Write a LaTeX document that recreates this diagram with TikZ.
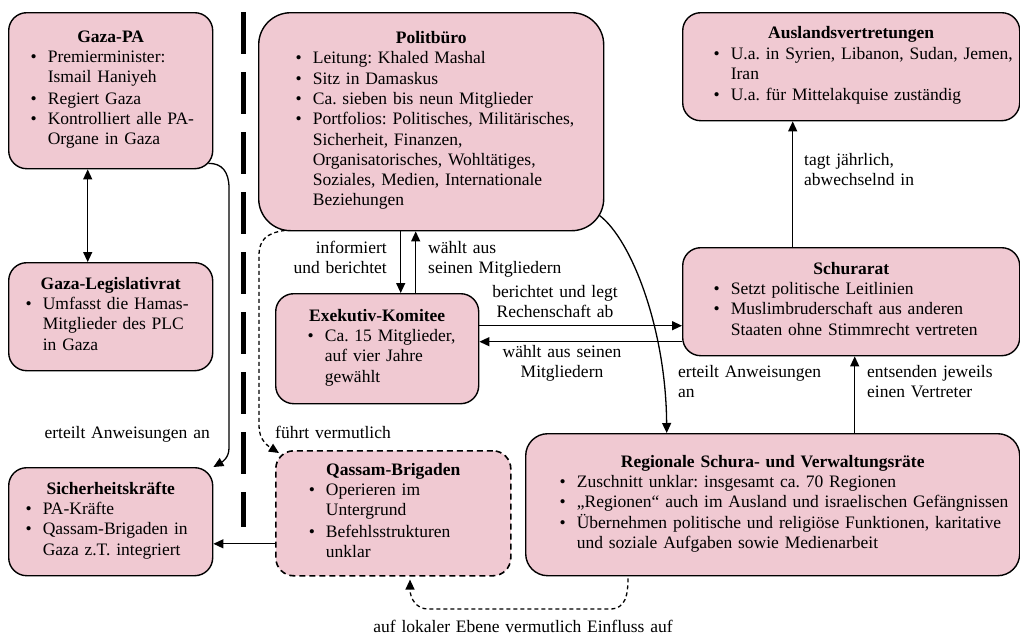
\documentclass[tikz,border=0pt]{standalone}
\usepackage{fontspec}
\setmainfont{Liberation Serif}
\usetikzlibrary{positioning, arrows.meta}
\definecolor{boxpink}{RGB}{240,201,210}
% bullet list used inside the boxes
\newenvironment{points}{\begin{list}{\textbullet}{%
  \setlength{\leftmargin}{17pt}\setlength{\labelwidth}{6pt}\setlength{\labelsep}{11pt}%
  \setlength{\itemsep}{0pt}\setlength{\parsep}{0pt}\setlength{\topsep}{0pt}%
  \setlength{\partopsep}{0pt}\setlength{\itemindent}{0pt}}}{\end{list}}
\newcommand{\ptlines}[1]{\leavevmode\rlap{\begin{tabular}[t]{@{}l@{}}#1\end{tabular}}}
\newcommand{\boxtitle}[1]{{\centering\textbf{#1}\par}}
\tikzset{
orgbox/.style={draw, line width=1.4pt, fill=boxpink, rounded corners=18pt, anchor=north west, inner ysep=0pt}, % one organ of the diagram
unclear/.style={orgbox, dash pattern=on 6pt off 4pt, line width=1.6pt}, % organ with unclear structure
link/.style={line width=1.3pt, ->}, % solid connection
maybe/.style={link, dash pattern=on 4pt off 3pt}, % presumed connection
linktext/.style={inner sep=0pt, text width=300pt}, % text on a connection
divider/.style={line width=5pt, dash pattern=on 42pt off 18pt}, % Gaza | outside
}

\begin{document}
\begin{tikzpicture}[x=1pt, y=-1pt, >={Triangle[length=10pt,width=9pt]},
    every node/.style={font=\fontsize{17.5}{20.3}\selectfont\frenchspacing}]
    \useasboundingbox (0,0) rectangle (1020,635);

    \node[orgbox, inner xsep=22pt, text width=160pt, minimum height=156pt] (gpa) at (8,12) {\boxtitle{Gaza-PA}
      \begin{points}
      \item \ptlines{Premierminister:\\Ismail Haniyeh}
      \item \ptlines{Regiert Gaza}
      \item \ptlines{Kontrolliert alle PA-\\Organe in Gaza}
      \end{points}};
    \node[orgbox, inner xsep=17pt, text width=170pt, minimum height=108pt] (glr) at (8,262) {\boxtitle{Gaza-Legislativrat}
      \begin{points}
      \item \ptlines{Umfasst die Hamas-\\Mitglieder des PLC\\in Gaza}
      \end{points}};
    \node[orgbox, inner xsep=17pt, text width=170pt, minimum height=108pt] (sk) at (8,467) {\boxtitle{Sicherheitskräfte}
      \begin{points}
      \item \ptlines{PA-Kräfte}
      \item \ptlines{Qassam-Brigaden in\\Gaza z.T. integriert}
      \end{points}};
    \node[orgbox, rounded corners=32pt, inner xsep=37pt, text width=271pt, minimum height=218pt] (pb) at (258,12) {\boxtitle{Politbüro}
      \begin{points}
      \item \ptlines{Leitung: Khaled Mashal}
      \item \ptlines{Sitz in Damaskus}
      \item \ptlines{Ca. sieben bis neun Mitglieder}
      \item \ptlines{Portfolios: Politisches, Militärisches,\\Sicherheit, Finanzen,\\Organisatorisches, Wohltätiges,\\Soziales, Medien, Internationale\\Beziehungen}
      \end{points}};
    \node[orgbox, inner xsep=32pt, text width=139pt, minimum height=110pt] (ek) at (275,293) {\boxtitle{Exekutiv-Komitee}
      \begin{points}
      \item \ptlines{Ca. 15 Mitglieder,\\auf vier Jahre\\gewählt}
      \end{points}};
    \node[unclear, inner xsep=33pt, text width=169pt, minimum height=125pt] (qb) at (275,450) {\boxtitle{Qassam-Brigaden}
      \begin{points}
      \item \ptlines{Operieren im\\Untergrund}
      \item \ptlines{Befehlsstrukturen\\unklar}
      \end{points}};
    \node[orgbox, inner xsep=31pt, text width=275pt, minimum height=108pt] (av) at (682,12) {\boxtitle{Auslandsvertretungen}
      \begin{points}
      \item \ptlines{U.a. in Syrien, Libanon, Sudan, Jemen,\\Iran}
      \item \ptlines{U.a. für Mittelakquise zuständig}
      \end{points}};
    \node[orgbox, inner xsep=31pt, text width=275pt, minimum height=108pt] (sr) at (682,247) {\boxtitle{Schurarat}
      \begin{points}
      \item \ptlines{Setzt politische Leitlinien}
      \item \ptlines{Muslimbruderschaft aus anderen\\Staaten ohne Stimmrecht vertreten}
      \end{points}};
    \node[orgbox, rounded corners=22pt, inner xsep=34pt, text width=426pt, minimum height=142pt] (rs) at (525,433) {\boxtitle{Regionale Schura- und Verwaltungsräte}
      \begin{points}
      \item \ptlines{Zuschnitt unklar: insgesamt ca. 70 Regionen}
      \item \ptlines{„Regionen“ auch im Ausland und israelischen Gefängnissen}
      \item \ptlines{Übernehmen politische und religiöse Funktionen, karitative\\und soziale Aufgaben sowie Medienarbeit}
      \end{points}};

    \draw[divider] (243,12) -- (243,527);

    \draw[link, <->] ([xshift=-23pt]gpa.south) -- ([xshift=-23pt]glr.north);
    \draw[link] ([xshift=-5pt,yshift=6pt]gpa.south east) .. controls (222,163) and (229,172) .. (229,188)
          -- (229,448) .. controls (229,458) and (222,462) .. (sk.north east);
    \draw[link] ([xshift=23.5pt]ek.north |- pb.south) -- ([xshift=23.5pt]ek.north);
    \draw[link] ([xshift=38.5pt]ek.north) -- ([xshift=38.5pt]ek.north |- pb.south);
    \draw[link] ([yshift=23pt]ek.east) -- ([yshift=23pt]ek.east -| sr.west);
    \draw[link] ([yshift=7pt]ek.east -| sr.west) -- ([yshift=7pt]ek.east);
    \draw[link] ([xshift=-5pt,yshift=16pt]pb.south east) .. controls (632,240) and (666,330) .. ([xshift=-106pt]rs.north);
    \draw[link] ([xshift=82pt]rs.north) -- ([xshift=82pt]rs.north |- sr.south);
    \draw[link] ([xshift=-58.5pt]sr.north) -- ([xshift=-58.5pt]sr.north |- av.south);
    \draw[link] ([yshift=-30.5pt]qb.west) -- ([yshift=-30.5pt]qb.west -| sk.east);
    \draw[maybe] ([xshift=27pt,yshift=1pt]pb.south west) .. controls (266,233) and (259,240) .. (259,256)
          -- (259,426) .. controls (259,440) and (268,446) .. ([xshift=4pt,yshift=-3pt]qb.north west);
    \draw[maybe] ([xshift=103pt,yshift=-2pt]rs.south west) .. controls (628,594) and (626,609) .. (610,609)
          -- (428,609) .. controls (416,609) and (410,598) .. ([xshift=135pt,yshift=-3pt]qb.south west);

    \node[linktext, align=right, anchor=base east] (t-gpa) at (210,438) {erteilt Anweisungen an};
    \node[linktext, align=right, anchor=base east] (t-inf) at (387,253) {informiert\\und berichtet};
    \node[linktext, align=left, anchor=base west] (t-pbw) at (428,253) {wählt aus\\seinen Mitgliedern};
    \node[linktext, align=center, anchor=base] (t-ber) at (555,297) {berichtet und legt\\Rechenschaft ab};
    \node[linktext, align=center, anchor=base] (t-srw) at (562,357) {wählt aus seinen\\Mitgliedern};
    \node[linktext, align=left, anchor=base west] (t-anw) at (678,377) {erteilt Anweisungen\\an};
    \node[linktext, align=left, anchor=base west] (t-ent) at (867,377) {entsenden jeweils\\einen Vertreter};
    \node[linktext, align=left, anchor=base west] (t-tag) at (804,165) {tagt jährlich,\\abwechselnd in};
    \node[linktext, align=left, anchor=base west] (t-fue) at (275,438) {führt vermutlich};
    \node[linktext, align=center, anchor=base, text width=420pt] (t-lok) at (523,632) {auf lokaler Ebene vermutlich Einfluss auf};
\end{tikzpicture}
\end{document}
